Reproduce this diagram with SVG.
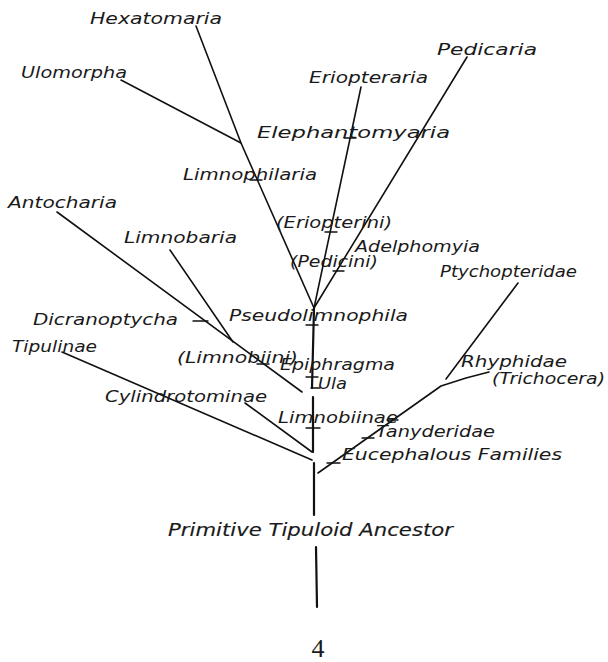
<svg xmlns="http://www.w3.org/2000/svg" width="608" height="662" viewBox="0 0 608 662">
<style>
.bg{fill:#fff}
.lbl{font-family:"DejaVu Sans","Liberation Sans",sans-serif;font-style:italic;font-size:16px;fill:#1a1a1a}
.big{font-size:17px;stroke:#1a1a1a;stroke-width:0.15}
.num{font-family:"Liberation Serif","DejaVu Serif",serif;font-size:26px;fill:#1a1a1a}
.ln{fill:none;stroke:#111;stroke-width:1.6;stroke-linecap:round;stroke-linejoin:round}
.trunk{fill:none;stroke:#111;stroke-width:2.2;stroke-linecap:round}
.tk{fill:none;stroke:#111;stroke-width:1.4;stroke-linecap:round}
</style>
<rect class="bg" x="0" y="0" width="608" height="662"/>
<g id="connectors">
<polyline class="ln" points="196,26 241,143 314,308"/>
<line class="ln" x1="121" y1="80" x2="241" y2="143"/>
<line class="ln" x1="361" y1="87" x2="314" y2="308"/>
<line class="ln" x1="467" y1="57" x2="314" y2="308"/>
<line class="ln" x1="57" y1="212" x2="302" y2="392"/>
<line class="ln" x1="170" y1="250" x2="233" y2="342"/>
<line class="ln" x1="62" y1="352" x2="312" y2="460"/>
<line class="ln" x1="245" y1="403" x2="312" y2="452"/>
<polyline class="ln" points="318,473 441,386 466,378 489,372"/>
<line class="ln" x1="518" y1="283" x2="446" y2="379"/>
<line class="trunk" x1="314" y1="308" x2="312" y2="388"/>
<line class="trunk" x1="313" y1="397" x2="313" y2="452"/>
<line class="trunk" x1="314" y1="463" x2="314" y2="515"/>
<line class="trunk" x1="316" y1="547" x2="317" y2="607"/>
<g id="ticks">
<line class="tk" x1="250" y1="180" x2="262" y2="180"/>
<line class="tk" x1="344" y1="138" x2="356" y2="138"/>
<line class="tk" x1="325" y1="232" x2="337" y2="232"/>
<line class="tk" x1="333" y1="271" x2="344" y2="271"/>
<line class="tk" x1="306" y1="325" x2="318" y2="325"/>
<line class="tk" x1="193" y1="321" x2="208" y2="321"/>
<line class="tk" x1="257" y1="364" x2="269" y2="364"/>
<line class="tk" x1="306" y1="377" x2="318" y2="377"/>
<line class="tk" x1="311" y1="388" x2="320" y2="388"/>
<line class="tk" x1="306" y1="428" x2="320" y2="428"/>
<line class="tk" x1="362" y1="438" x2="374" y2="438"/>
<line class="tk" x1="327" y1="463" x2="340" y2="463"/>
<line class="tk" x1="387" y1="420" x2="398" y2="420"/>
</g>
</g>
<g id="hexatomaria"><text class="lbl" x="90" y="24" textLength="132" lengthAdjust="spacingAndGlyphs">Hexatomaria</text></g>
<g id="ulomorpha"><text class="lbl" x="21" y="78" textLength="106" lengthAdjust="spacingAndGlyphs">Ulomorpha</text></g>
<g id="eriopteraria"><text class="lbl" x="309" y="83" textLength="119" lengthAdjust="spacingAndGlyphs">Eriopteraria</text></g>
<g id="pedicaria"><text class="lbl" x="437" y="55" textLength="100" lengthAdjust="spacingAndGlyphs">Pedicaria</text></g>
<g id="elephantomyaria"><text class="lbl" x="257" y="138" textLength="193" lengthAdjust="spacingAndGlyphs">Elephantomyaria</text></g>
<g id="limnophilaria"><text class="lbl" x="183" y="180" textLength="134" lengthAdjust="spacingAndGlyphs">Limnophilaria</text></g>
<g id="eriopterini"><text class="lbl" x="276" y="228" textLength="116" lengthAdjust="spacingAndGlyphs">(Eriopterini)</text></g>
<g id="adelphomyia"><text class="lbl" x="355" y="252" textLength="125" lengthAdjust="spacingAndGlyphs">Adelphomyia</text></g>
<g id="pedicini"><text class="lbl" x="290" y="267" textLength="88" lengthAdjust="spacingAndGlyphs">(Pedicini)</text></g>
<g id="ptychopteridae"><text class="lbl" x="440" y="277" textLength="137" lengthAdjust="spacingAndGlyphs">Ptychopteridae</text></g>
<g id="antocharia"><text class="lbl" x="8" y="208" textLength="109" lengthAdjust="spacingAndGlyphs">Antocharia</text></g>
<g id="limnobaria"><text class="lbl" x="124" y="243" textLength="113" lengthAdjust="spacingAndGlyphs">Limnobaria</text></g>
<g id="pseudolimnophila"><text class="lbl" x="229" y="321" textLength="179" lengthAdjust="spacingAndGlyphs">Pseudolimnophila</text></g>
<g id="dicranoptycha"><text class="lbl" x="33" y="325" textLength="145" lengthAdjust="spacingAndGlyphs">Dicranoptycha</text></g>
<g id="tipulinae"><text class="lbl" x="12" y="352" textLength="85" lengthAdjust="spacingAndGlyphs">Tipulinae</text></g>
<g id="limnobiini"><text class="lbl" x="177" y="363" textLength="121" lengthAdjust="spacingAndGlyphs">(Limnobiini)</text></g>
<g id="epiphragma"><text class="lbl" x="280" y="370" textLength="115" lengthAdjust="spacingAndGlyphs">Epiphragma</text></g>
<g id="ula"><text class="lbl" x="318" y="389" textLength="29" lengthAdjust="spacingAndGlyphs">Ula</text></g>
<g id="cylindrotominae"><text class="lbl" x="105" y="402" textLength="162" lengthAdjust="spacingAndGlyphs">Cylindrotominae</text></g>
<g id="limnobiinae"><text class="lbl" x="278" y="423" textLength="120" lengthAdjust="spacingAndGlyphs">Limnobiinae</text></g>
<g id="rhyphidae"><text class="lbl" x="461" y="367" textLength="106" lengthAdjust="spacingAndGlyphs">Rhyphidae</text></g>
<g id="trichocera"><text class="lbl" x="492" y="384" textLength="113" lengthAdjust="spacingAndGlyphs">(Trichocera)</text></g>
<g id="tanyderidae"><text class="lbl" x="376" y="437" textLength="119" lengthAdjust="spacingAndGlyphs">Tanyderidae</text></g>
<g id="eucephalous"><text class="lbl" x="342" y="460" textLength="220" lengthAdjust="spacingAndGlyphs">Eucephalous Families</text></g>
<g id="ancestor"><text class="lbl big" x="168" y="536" textLength="285" lengthAdjust="spacingAndGlyphs">Primitive Tipuloid Ancestor</text></g>
<g id="figure-number"><text class="num" x="318" y="657" text-anchor="middle">4</text></g>
</svg>
